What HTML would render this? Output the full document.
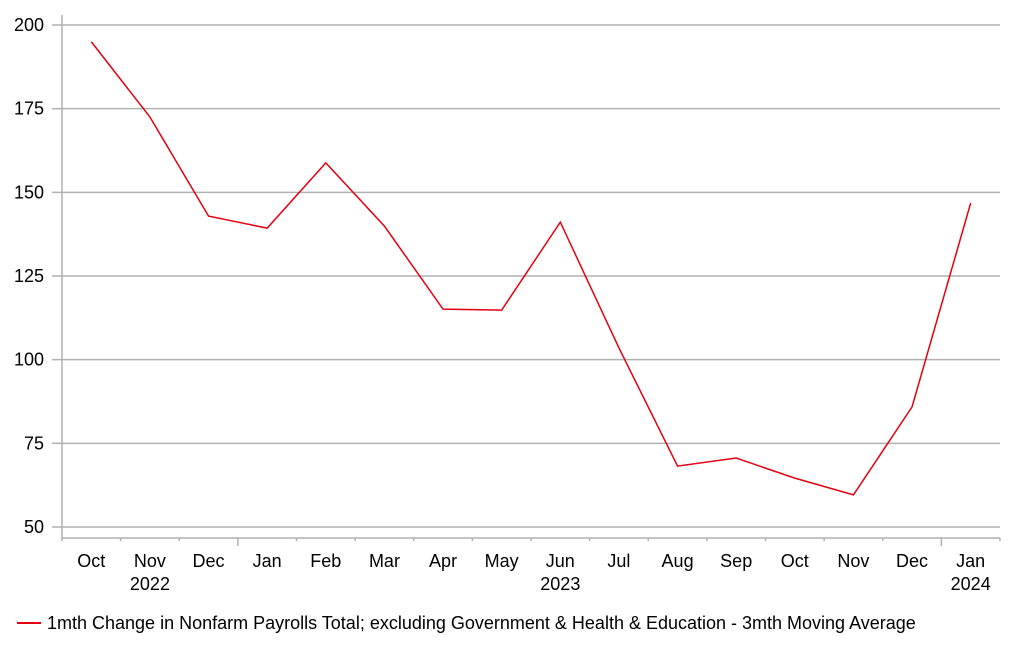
<!DOCTYPE html>
<html><head><meta charset="utf-8"><style>
body{margin:0;background:#fff;}
svg text{font-family:"Liberation Sans",Arial,sans-serif;font-size:18px;fill:#000;}
</style></head><body>
<svg width="1022" height="656">
<g id="grid"></g><g id="axes"></g><g id="labels"></g><g id="series"></g>
<g>
<line x1="17" y1="623" x2="41" y2="623" stroke="#e3000f" stroke-width="2"/>
<text x="47" y="629">1mth Change in Nonfarm Payrolls Total; excluding Government &amp; Health &amp; Education - 3mth Moving Average</text>
</g>
</svg>
<script>
const categories=["Oct","Nov","Dec","Jan","Feb","Mar","Apr","May","Jun","Jul","Aug","Sep","Oct","Nov","Dec","Jan"];
const yearLabels=["","2022","","","","","","","2023","","","","","","","2024"];
const values=[195,172.5,142.9,139.3,158.8,139.9,115.1,114.8,141.1,103.5,68.2,70.6,64.6,59.6,85.9,146.8];
const yTicks=[50,75,100,125,150,175,200];
const NS="http://www.w3.org/2000/svg";
const L=62,R=1000,Y0=527,Y1=25,AX=538;
const step=(R-L)/categories.length;
const x=i=>L+step*(i+0.5);
const y=v=>Y0-(v-50)*(Y0-Y1)/150;
function mk(t,a,p){const e=document.createElementNS(NS,t);for(const k in a)e.setAttribute(k,a[k]);p.appendChild(e);return e;}
const grid=document.getElementById('grid'),axes=document.getElementById('axes'),labels=document.getElementById('labels'),series=document.getElementById('series');
yTicks.forEach(v=>{
 const g=mk('line',{x1:L,x2:R,y1:y(v),y2:y(v),stroke:'#b0b0b0','stroke-width':1.5},grid);
 
 
 mk('line',{x1:52,x2:L,y1:y(v),y2:y(v),stroke:'#b0b0b0','stroke-width':1.5},axes);
 const t=mk('text',{x:44,y:y(v)+6,'text-anchor':'end'},labels);t.textContent=v;
 
 
});
mk('line',{x1:L,x2:L,y1:15,y2:AX,stroke:'#b0b0b0','stroke-width':1.5},axes);
mk('line',{x1:L,x2:R,y1:AX,y2:AX,stroke:'#b0b0b0','stroke-width':1.5},axes);
for(let i=0;i<=categories.length;i++){
 const major=(i<categories.length&&categories[i]==="Jan");
 mk('line',{x1:L+step*i,x2:L+step*i,y1:AX,y2:major?546:541,stroke:'#b0b0b0','stroke-width':1.5},axes);
}
categories.forEach((c,i)=>{
 const t=mk('text',{x:x(i),y:567,'text-anchor':'middle'},labels);t.textContent=c;
 
 
 if(yearLabels[i]){const u=mk('text',{x:x(i),y:590,'text-anchor':'middle'},labels);u.textContent=yearLabels[i];
 
 }
});
const p=mk('polyline',{points:values.map((v,i)=>x(i)+','+y(v)).join(' '),fill:'none',stroke:'#e3000f','stroke-width':1.5},series);


</script>
</body></html>
